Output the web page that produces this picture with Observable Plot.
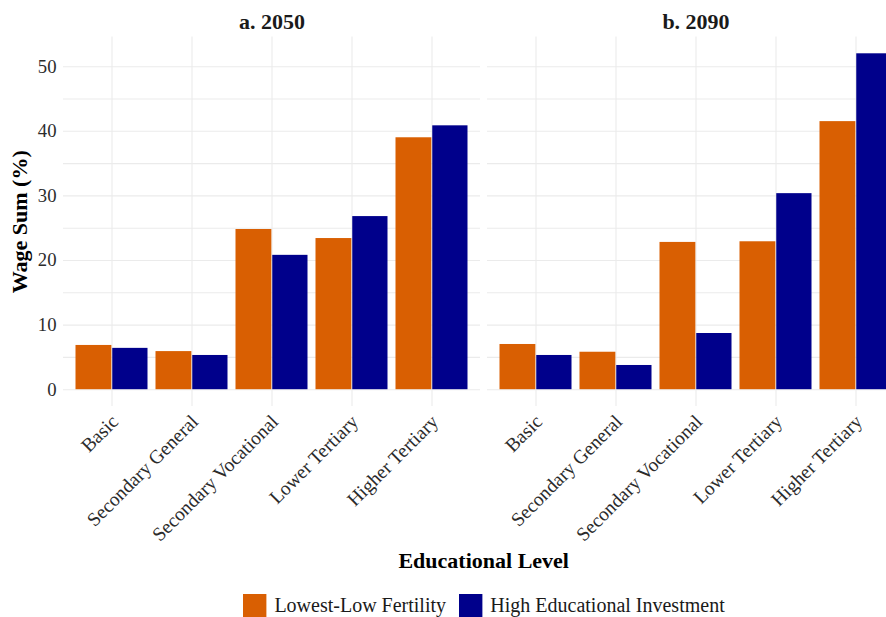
<!DOCTYPE html>
<html>
<head>
<meta charset="utf-8">
<script src="https://cdn.jsdelivr.net/npm/d3@7"></script>
<script src="https://cdn.jsdelivr.net/npm/@observablehq/plot@0.6"></script>
<style>
  body { margin: 0; background: #fff; }
  #figure {
    position: relative; width: 886px; height: 617px; overflow: hidden;
    font-family: "Liberation Serif", "Times New Roman", serif; background: #fff;
  }
  #figure > svg { position: absolute; left: 0; top: 0; max-width: none !important; }
  #figure g[aria-label="fx-axis tick label"] text { font-size: 22px; font-weight: bold; fill: #1a1a1a; }
  #figure g[aria-label="y-axis label"] text { font-size: 22px; font-weight: bold; fill: #000; }
  #figure g[aria-label="x-axis tick label"] text { font-size: 19.4px; fill: #2b2b2b; }
  #figure g[aria-label="y-axis tick label"] text { fill: #2b2b2b; }
  #x-title {
    position: absolute; left: 62.5px; width: 842.4px; top: 549.6px;
    text-align: center; font-size: 22px; line-height: 22px; font-weight: bold; color: #000;
  }
  #legend {
    position: absolute; left: 62.5px; width: 842.4px; top: 589.5px;
    display: flex; justify-content: center;
  }
  .wage-legend-swatch { margin-right: 12.6px !important; }
  .wage-legend-swatch:last-child { margin-right: 0 !important; }
  .wage-legend-swatch > svg { margin-right: 8.3px !important; }
</style>
</head>
<body>
<div id="figure"></div>
<script>
// Educational levels and the two panels (projection years)
const categories = ["Basic", "Secondary General", "Secondary Vocational", "Lower Tertiary", "Higher Tertiary"];
const panels = ["a. 2050", "b. 2090"];
const scenarios = ["Lowest-Low Fertility", "High Educational Investment"];
const scenarioColors = ["#D95F02", "#00008B"];

// Wage sum shares (%) by educational level
const lowestLow2050 = [6.85, 5.9, 24.8, 23.4, 39.0];
const highEdu2050   = [6.4, 5.3, 20.8, 26.8, 40.85];
const lowestLow2090 = [7.0, 5.8, 22.8, 22.9, 41.5];
const highEdu2090   = [5.3, 3.75, 8.7, 30.35, 52.0];

const yTicks = [0, 10, 20, 30, 40, 50];
const yGrid = [0, 5, 10, 15, 20, 25, 30, 35, 40, 45, 50];

const series = [
  [lowestLow2050, highEdu2050],
  [lowestLow2090, highEdu2090]
];
const rows = [];
panels.forEach((panel, pi) => {
  scenarios.forEach((scenario, si) => {
    categories.forEach((category, ci) => {
      rows.push({panel, scenario, category, value: series[pi][si][ci]});
    });
  });
});

// Layout
const width = 905, height = 540;
const marginLeft = 62.5, marginRight = 0, marginTop = 36.5, marginBottom = 134;
const fxPadding = 0.0163;
const panelWidth = (width - marginLeft - marginRight) / (2 - fxPadding);
const step = panelWidth / (categories.length + 0.2);
const halfBar = step * 0.9 / 2;

const yMax = d3.max(rows, d => d.value);
const yPad = yMax * 0.05;

const chart = Plot.plot({
  width, height, marginLeft, marginRight, marginTop, marginBottom,
  style: {fontFamily: '"Liberation Serif", "Times New Roman", serif', fontSize: "18.7px", background: "transparent", overflow: "visible"},
  fx: {domain: panels, paddingInner: fxPadding, paddingOuter: 0, axis: "top", label: null, tickSize: 0, tickPadding: 8},
  y: {domain: [-yPad, yMax + yPad], ticks: yTicks, tickSize: 0, tickPadding: 7,
      label: "Wage Sum (%)", labelAnchor: "center", labelArrow: "none", labelOffset: 52},
  x: {domain: categories, paddingInner: 0.1, paddingOuter: 0.15, axis: null},
  color: {domain: scenarios, range: scenarioColors},
  marks: [
    Plot.ruleY(yGrid, {stroke: "#EBEBEB", strokeWidth: 1.1}),
    Plot.gridX({stroke: "#EBEBEB", strokeOpacity: 1, strokeWidth: 1.1}),
    // left half of each band: first scenario (slightly under the second to avoid a seam)
    Plot.barY(rows.filter(d => d.scenario === scenarios[0]),
      {fx: "panel", x: "category", y: "value", fill: "scenario", insetLeft: 0, insetRight: halfBar - 0.6}),
    // right half of each band: second scenario
    Plot.barY(rows.filter(d => d.scenario === scenarios[1]),
      {fx: "panel", x: "category", y: "value", fill: "scenario", insetLeft: halfBar, insetRight: 0}),
    Plot.axisX({tickSize: 0, tickRotate: -45, tickPadding: 12, dx: 3, label: null})
  ]
});

const fig = document.getElementById("figure");
fig.appendChild(chart);

const xTitle = document.createElement("div");
xTitle.id = "x-title";
xTitle.textContent = "Educational Level";
fig.appendChild(xTitle);

const legendWrap = document.createElement("div");
legendWrap.id = "legend";
const legend = chart.legend("color", {
  swatchSize: 23.4,
  className: "wage-legend",
  style: {fontFamily: '"Liberation Serif", "Times New Roman", serif', fontSize: "20px", color: "#1a1a1a"}
});
legendWrap.appendChild(legend);
fig.appendChild(legendWrap);
</script>
</body>
</html>
